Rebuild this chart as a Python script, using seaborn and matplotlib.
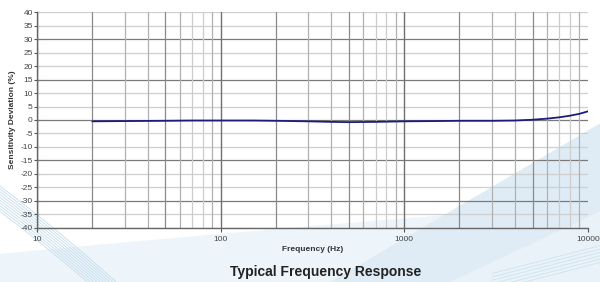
import matplotlib
matplotlib.use("Agg")
import matplotlib.pyplot as plt
import seaborn as sns
import pandas as pd
import numpy as np

# frequency response
freq_hz = [20, 30, 50, 70, 100, 150, 200, 300, 400, 500, 700, 1000, 1500, 2000,
           3000, 4000, 5000, 6000, 7000, 8000, 9000, 10000]
deviation_pct = [-0.5, -0.4, -0.3, -0.2, -0.2, -0.2, -0.3, -0.5, -0.7, -0.8, -0.7, -0.5,
                 -0.4, -0.3, -0.3, -0.2, 0.1, 0.5, 1.0, 1.6, 2.3, 3.2]

y_ticks = list(range(-40, 45, 5))
y_major = [-30, -15, 0, 15, 30]
x_ticks = [10, 100, 1000, 10000]

df = pd.DataFrame({"Frequency (Hz)": freq_hz, "Deviation": deviation_pct})

sns.set_style("white")
plt.rcParams['font.family'] = ['Liberation Sans', 'DejaVu Sans']

fig = plt.figure(figsize=(6, 2.82), dpi=100)

# faint decorative swoosh in the background
bg = fig.add_axes([0, 0, 1, 1], zorder=-1)
bg.set_xlim(0, 1)
bg.set_ylim(0, 1)
bg.axis('off')
t = np.linspace(0, 1, 200)
# pale band along the bottom
bg.fill_between(t, 0, 0.10 + 0.2 * t - 0.02 * t ** 2, color='#eef5fa', lw=0)
# right-hand wedge
bg.fill_between(t, 0, np.clip((t - 0.55) * 1.25, 0, None), color='#dfecf5', lw=0)
bg.fill_between(t, 0, np.clip((t - 0.75) * 1.0, 0, None), color='#e8f2f8', lw=0)
# bundle of thin lines at the bottom left
for k in range(10):
    off = k * 0.010
    xs = t * 0.22
    ys = 0.34 - off - xs * 1.6 - 0.8 * xs ** 2
    bg.plot(xs, ys, color='#c4dcec', lw=0.6)
for k in range(6):
    xs = 0.82 + t * 0.18
    bg.plot(xs, (xs - 0.82) * 0.55 - 0.03 + k * 0.012, color='#cfe3ef', lw=0.6)

ax = fig.add_axes([0.0617, 0.193, 0.918, 0.763])
ax.set_facecolor('none')

ax.set_xscale('log')
ax.set_xlim(10, 10000)
ax.set_ylim(-40, 40)

# horizontal grid
for v in y_ticks:
    if v in y_major:
        ax.axhline(v, color='#7a7a7a', lw=0.9, zorder=1)
    else:
        ax.axhline(v, color='#cfcfcf', lw=0.9, zorder=1)

# vertical grid
for dec in [10, 100, 1000]:
    for m in range(1, 10):
        f = dec * m
        if m == 1:
            c, w = '#707070', 1.0
        elif m in (2, 5):
            c, w = '#8a8a8a', 0.9
        elif m in (3, 4, 6, 9):
            c, w = '#b0b0b0', 0.9
        else:
            c, w = '#cccccc', 0.9
        ax.axvline(f, color=c, lw=w, zorder=1)

sns.lineplot(data=df, x="Frequency (Hz)", y="Deviation", ax=ax,
             color='#1c1c7a', lw=1.3, zorder=3)

ax.set_yticks(y_ticks)
ax.set_yticklabels([str(v) for v in y_ticks])
ax.set_xticks(x_ticks)
ax.set_xticklabels([str(v) for v in x_ticks])
ax.xaxis.set_minor_locator(matplotlib.ticker.NullLocator())
ax.tick_params(axis='y', direction='inout', length=4, width=0.8, color='#555555',
               labelsize=6, labelcolor='#444444', pad=1, left=True)
ax.tick_params(axis='x', direction='out', length=3, width=0.8, color='#555555',
               labelsize=6, labelcolor='#444444', pad=3, bottom=True)

for s in ['top', 'right']:
    ax.spines[s].set_visible(False)
for s in ['left', 'bottom']:
    ax.spines[s].set_color('#666666')
    ax.spines[s].set_linewidth(1.0)

ax.set_xlabel("Frequency (Hz)", fontsize=6, fontweight='bold', color='#333333', labelpad=2)
ax.set_ylabel("Sensitivity Deviation (%)", fontsize=6, fontweight='bold', color='#333333', labelpad=3)

fig.text(0.543, 0.037, "Typical Frequency Response", ha='center', va='center',
         fontsize=10, fontweight='bold', color='#222222')

fig.savefig("out.png", dpi=100)
